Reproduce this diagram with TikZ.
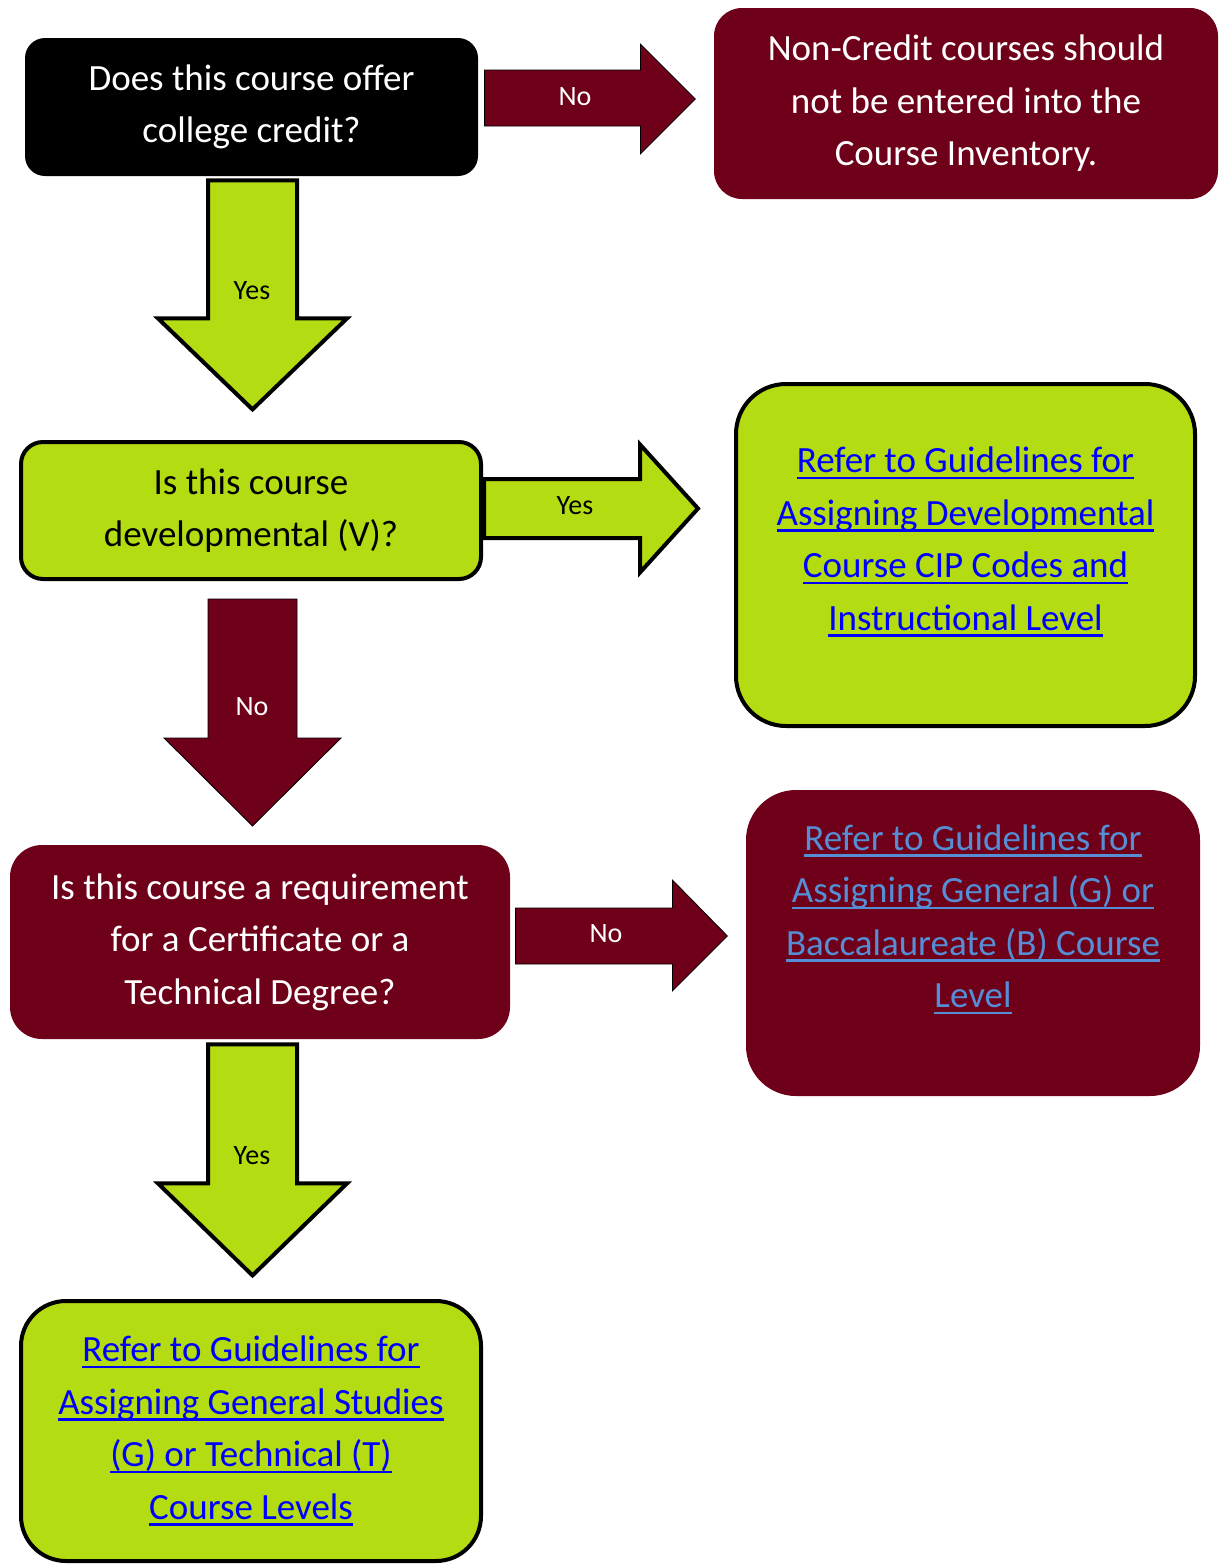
\documentclass[tikz,border=0pt]{standalone}
\usepackage{fontspec}
\setmainfont{Carlito}
\usetikzlibrary{positioning,calc}
\definecolor{maroon}{RGB}{111,0,26}
\definecolor{lime}{RGB}{180,220,18}
\definecolor{linkblue}{RGB}{0,0,255}
\definecolor{paleblue}{RGB}{85,142,213}
\newcommand{\linkline}[1]{\setbox0=\hbox{#1}\rlap{\rule[-3.2pt]{\wd0}{1.2pt}}\box0}

\begin{document}
\begin{tikzpicture}[
    x=0.5pt, y=-0.5pt,
    every node/.style={font=\fontsize{18.5}{26.25}\selectfont, align=center},
    darkbox/.style={fill=black, text=white, rounded corners=10pt},
    redbox/.style={fill=maroon, text=white},
    greenbox/.style={fill=lime, draw=black, line width=2pt},
    arrowlabel/.style={font=\fontsize{14}{16}\selectfont, inner sep=0pt},
    yesblock/.style={fill=lime, draw=black, line width=2pt},
    noblock/.style={fill=maroon}
  ]
  \useasboundingbox (0,0) rectangle (1220,1564);

  % question boxes
  \node[darkbox, minimum width=226.5pt, minimum height=69pt] (q1) at (251.5,107)
    {Does this course offer\\college credit?};
  \node[greenbox, rounded corners=11pt, minimum width=230pt, minimum height=68.5pt] (q2) at (251,510.5)
    {Is this course\\developmental (V)?};
  \node[redbox, rounded corners=16pt, minimum width=250pt, minimum height=97pt] (q3) at (260,942)
    {Is this course a requirement\\for a Certificate or a\\Technical Degree?};

  % answer boxes
  \node[redbox, rounded corners=14pt, minimum width=252pt, minimum height=95.5pt] (nc) at (966,103.5)
    {Non-Credit courses should\\not be entered into the\\Course Inventory.};
  \node[greenbox, rounded corners=25pt, minimum width=229.5pt, minimum height=171pt] (dev) at (965.5,555) {};
  \node[text=linkblue] (devtxt) at ($(dev.center)+(0,-13)$)
    {\linkline{Refer to Guidelines for}\\\linkline{Assigning Developmental}\\\linkline{Course CIP Codes and}\\\linkline{Instructional Level}};
  \node[redbox, rounded corners=25pt, minimum width=227pt, minimum height=153pt] (gb) at (973,943) {};
  \node[text=paleblue] (gbtxt) at ($(gb.center)+(0,-23.5)$)
    {\linkline{Refer to Guidelines for}\\\linkline{Assigning General (G) or}\\\linkline{Baccalaureate (B) Course}\\\linkline{Level}};
  \node[greenbox, text=linkblue, rounded corners=22.5pt, minimum width=230pt, minimum height=130pt] (gt) at (251,1431)
    {\linkline{Refer to Guidelines for}\\\linkline{Assigning General Studies}\\\linkline{(G) or Technical (T)}\\\linkline{Course Levels}};

  % block arrows
  \draw[noblock] ($(q1.east)+(6,-37)$) -- ++(156,0) -- ++(0,-26) -- ++(55,55)
    -- ++(-55,55) -- ++(0,-28) -- ++(-156,0) -- cycle;
  \node[arrowlabel, text=white] (no1) at (575,97) {No};

  \draw[yesblock] ($(q1.south)+(-43.5,4)$) -- ++(89,0) -- ++(0,138) -- ++(50,0)
    -- ++(-94.5,91) -- ++(-94.5,-91) -- ++(50,0) -- cycle;
  \node[arrowlabel] (yes1) at (252,291) {Yes};

  \draw[yesblock] ($(q2.east)+(1,-31.5)$) -- ++(156,0) -- ++(0,-34.5) -- ++(58,64)
    -- ++(-58,64) -- ++(0,-34.5) -- ++(-156,0) -- cycle;
  \node[arrowlabel] (yes2) at (575,506) {Yes};

  \draw[noblock] ($(q2.south)+(-43,18)$) -- ++(89,0) -- ++(0,139) -- ++(44,0)
    -- ++(-88.5,88) -- ++(-88.5,-88) -- ++(44,0) -- cycle;
  \node[arrowlabel, text=white] (no2) at (252,707) {No};

  \draw[noblock] ($(q3.east)+(5,-34)$) -- ++(157,0) -- ++(0,-28) -- ++(55,56)
    -- ++(-55,55) -- ++(0,-27) -- ++(-157,0) -- cycle;
  \node[arrowlabel, text=white] (no3) at (606,934) {No};

  \draw[yesblock] ($(q3.south)+(-52,5)$) -- ++(89,0) -- ++(0,139) -- ++(50,0)
    -- ++(-94.5,92) -- ++(-94.5,-92) -- ++(50,0) -- cycle;
  \node[arrowlabel] (yes3) at (252,1156) {Yes};
\end{tikzpicture}
\end{document}
